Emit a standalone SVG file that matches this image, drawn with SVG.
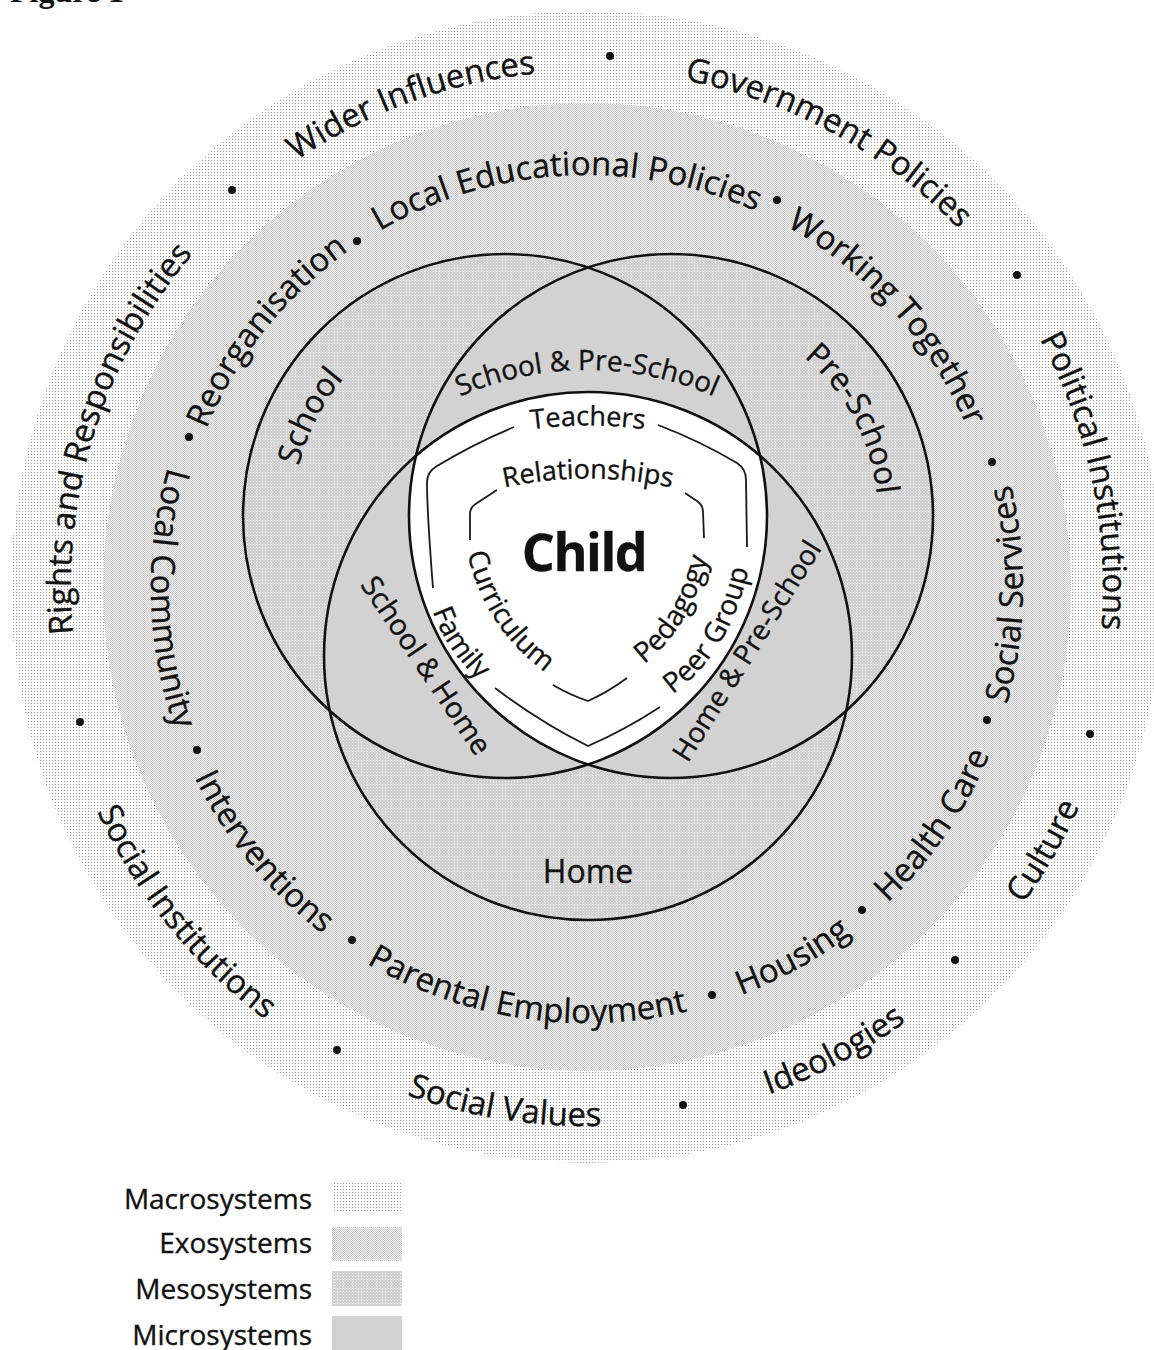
<svg xmlns="http://www.w3.org/2000/svg" width="1154" height="1350" viewBox="0 0 1154 1350">
<style>
text { font-family: "Open Sans", "Noto Sans", "Liberation Sans", sans-serif; fill: #111; stroke: #111; stroke-width: 0.35px; }
.ring { font-size: 33px; text-anchor: middle; }
.venn { font-size: 32px; text-anchor: middle; }
.pair { font-size: 28px; text-anchor: middle; }
.inner { font-size: 27px; text-anchor: middle; }
.inner2 { font-size: 28px; text-anchor: middle; }
.frame { fill: none; stroke: #1a1a1a; stroke-width: 1.8; }
.outline { fill: none; stroke: #111; stroke-width: 2.6; }
.dot { fill: #111; }
.legend { font-size: 28px; text-anchor: end; }
</style>
<defs>
  <pattern id="pMacro" width="3" height="3" patternUnits="userSpaceOnUse">
    <rect width="3" height="3" fill="#ffffff"/>
    <rect x="1" y="1" width="1" height="1" fill="#9a9a9a"/>
  </pattern>
  <pattern id="pExo" width="2" height="2" patternUnits="userSpaceOnUse">
    <rect width="2" height="2" fill="#f4f4f4"/>
    <rect width="1" height="1" fill="#c8c8c8"/>
    <rect x="1" y="1" width="1" height="1" fill="#c8c8c8"/>
  </pattern>
  <pattern id="pMeso" width="3" height="3" patternUnits="userSpaceOnUse">
    <rect width="3" height="3" fill="#d3d3d3"/>
    <rect x="1" y="1" width="1" height="1" fill="#ffffff"/>
  </pattern>
  <clipPath id="cS"><circle cx="505" cy="516" r="262"/></clipPath>
  <clipPath id="cP"><circle cx="671" cy="516" r="262"/></clipPath>
  <clipPath id="cH"><circle cx="588" cy="656" r="264"/></clipPath>
  <path id="macroCW" d="M191.7,255.3 A516,516 0 0 1 982.3,255.3"/>
  <path id="macroCCW" d="M174.1,933.5 A539,539 0 0 0 999.9,933.5"/>
  <path id="exoCW" d="M271.4,322.2 A412,412 0 0 1 902.6,322.2"/>
  <path id="exoCCW" d="M253,867.3 A436,436 0 0 0 921,867.3"/>
  <path id="schoolArc" d="M368.7,353.6 A212,212 0 0 1 641.3,353.6"/>
  <path id="preArc" d="M537.9,357.4 A207,207 0 0 1 804.1,357.4"/>
  <path id="spsArc" d="M428.5,412.5 A317,317 0 0 1 745.5,412.5"/>
  <path id="teachersP" d="M520,431 Q588,420 656,431"/>
  <path id="relP" d="M490,491 Q588,466 686,491"/>
  <path id="currP" d="M463,528 Q476,634 567,686"/>
  <path id="pedP" d="M612,683 Q700,643 714,521"/>
  <path id="peerP" d="M646,710 Q737,666 754,539"/>
  <path id="famP" d="M426,586 Q438,652 499,697"/>
</defs>

<rect width="1154" height="1350" fill="#ffffff"/>
<text x="10" y="2" style="font-family:'Liberation Serif',serif;font-weight:700;font-size:32px;stroke:none">Figure 1</text>

<g id="macrosystem">
  <circle cx="587" cy="587" r="576" fill="url(#pMacro)"/>
  <g class="ring">
    <text transform="rotate(-20 587 587)"><textPath href="#macroCW" startOffset="50%">Wider Influences</textPath></text>
    <text transform="rotate(28.5 587 587)"><textPath href="#macroCW" startOffset="50%">Government Policies</textPath></text>
    <text transform="rotate(78 587 587)"><textPath href="#macroCW" startOffset="50%">Political Institutions</textPath></text>
    <text transform="rotate(-60 587 587)"><textPath href="#macroCCW" startOffset="50%">Culture</textPath></text>
    <text transform="rotate(-28 587 587)"><textPath href="#macroCCW" startOffset="50%">Ideologies</textPath></text>
    <text transform="rotate(9 587 587)"><textPath href="#macroCCW" startOffset="50%">Social Values</textPath></text>
    <text transform="rotate(51 587 587)"><textPath href="#macroCCW" startOffset="50%">Social Institutions</textPath></text>
    <text transform="rotate(-72.5 587 587)"><textPath href="#macroCW" startOffset="50%">Rights and Responsibilities</textPath></text>
  </g>
  <g class="dot">
    <circle cx="610" cy="56" r="4"/>
    <circle cx="1017" cy="275" r="4"/>
    <circle cx="1090" cy="734" r="4"/>
    <circle cx="955" cy="960" r="4"/>
    <circle cx="683" cy="1105" r="4"/>
    <circle cx="337" cy="1050" r="4"/>
    <circle cx="80" cy="722" r="4"/>
    <circle cx="232" cy="190" r="4"/>
  </g>
</g>

<g id="exosystem">
  <circle cx="587" cy="587" r="484" fill="url(#pExo)"/>
  <g class="ring">
    <text transform="rotate(-3 587 587)"><textPath href="#exoCW" startOffset="50%">Local Educational Policies</textPath></text>
    <text transform="rotate(48 587 587)"><textPath href="#exoCW" startOffset="50%">Working Together</textPath></text>
    <text transform="rotate(-89 587 587)"><textPath href="#exoCCW" startOffset="50%">Social Services</textPath></text>
    <text transform="rotate(-55.5 587 587)"><textPath href="#exoCCW" startOffset="50%">Health Care</textPath></text>
    <text transform="rotate(-29 587 587)"><textPath href="#exoCCW" startOffset="50%">Housing</textPath></text>
    <text transform="rotate(8.5 587 587)"><textPath href="#exoCCW" startOffset="50%">Parental Employment</textPath></text>
    <text transform="rotate(50.7 587 587)"><textPath href="#exoCCW" startOffset="50%">Interventions</textPath></text>
    <text transform="rotate(88.4 587 587)"><textPath href="#exoCCW" startOffset="50%">Local Community</textPath></text>
    <text transform="rotate(-51.4 587 587)"><textPath href="#exoCW" startOffset="50%">Reorganisation</textPath></text>
  </g>
  <g class="dot">
    <circle cx="357" cy="241" r="4"/>
    <circle cx="189" cy="437" r="4"/>
    <circle cx="197" cy="750" r="4"/>
    <circle cx="352" cy="940" r="4"/>
    <circle cx="712" cy="995" r="4"/>
    <circle cx="862" cy="910" r="4"/>
    <circle cx="987" cy="720" r="4"/>
    <circle cx="992" cy="462" r="4"/>
    <circle cx="777" cy="200" r="4"/>
  </g>
</g>

<g id="venn">
  <g id="mesosystems">
    <circle cx="505" cy="516" r="262" fill="url(#pMeso)"/>
    <circle cx="671" cy="516" r="262" fill="url(#pMeso)"/>
    <circle cx="588" cy="656" r="264" fill="url(#pMeso)"/>
  </g>
  <g id="microsystems" fill="#d2d2d2">
    <circle cx="505" cy="516" r="262" clip-path="url(#cP)"/>
    <circle cx="505" cy="516" r="262" clip-path="url(#cH)"/>
    <circle cx="671" cy="516" r="262" clip-path="url(#cH)"/>
  </g>
  <g id="child-region" clip-path="url(#cS)">
    <circle cx="588" cy="656" r="264" fill="#ffffff" clip-path="url(#cP)"/>
  </g>
  <g id="outlines" class="outline">
    <circle cx="505" cy="516" r="262"/>
    <circle cx="671" cy="516" r="262"/>
    <circle cx="588" cy="656" r="264"/>
  </g>
</g>

<g id="connectors" class="frame">
  <path d="M433,588 C430,550 427,510 427,482 Q427,472 437,466 Q475,443 514,427"/>
  <path d="M658,425 Q700,441 737,463 Q746,469 746,480 L747,547"/>
  <path d="M495,688 Q540,722 588,746 Q625,730 660,707"/>
  <path d="M470,540 L470,514 Q470,507 477,503 L497,490"/>
  <path d="M685,493 L697,501 Q703,505 703,512 L704,538"/>
  <path d="M553,685 Q570,695 588,701 Q608,692 627,678"/>
</g>

<g id="node-school"><text class="venn" transform="rotate(-63 505 516)"><textPath href="#schoolArc" startOffset="50%">School</textPath></text></g>
<g id="node-preschool"><text class="venn" transform="rotate(62 671 516)"><textPath href="#preArc" startOffset="50%">Pre-School</textPath></text></g>
<g id="node-home"><text class="venn" x="588" y="883">Home</text></g>
<g id="node-school-preschool"><text class="inner" style="font-size:28px"><textPath href="#spsArc" startOffset="50%">School &amp; Pre-School</textPath></text></g>
<g id="node-school-home"><text class="pair" style="font-size:29px" transform="translate(418 671) rotate(56)">School &amp; Home</text></g>
<g id="node-home-preschool"><text class="pair" transform="translate(755 656) rotate(-58)">Home &amp; Pre-School</text></g>
<g id="node-teachers"><text class="inner"><textPath href="#teachersP" startOffset="50%">Teachers</textPath></text></g>
<g id="node-relationships"><text class="inner"><textPath href="#relP" startOffset="50%">Relationships</textPath></text></g>
<g id="node-curriculum"><text class="inner2"><textPath href="#currP" startOffset="50%">Curriculum</textPath></text></g>
<g id="node-pedagogy"><text class="inner2"><textPath href="#pedP" startOffset="50%">Pedagogy</textPath></text></g>
<g id="node-peergroup"><text class="inner2"><textPath href="#peerP" startOffset="50%">Peer Group</textPath></text></g>
<g id="node-family"><text class="inner2"><textPath href="#famP" startOffset="50%">Family</textPath></text></g>
<g id="node-child"><text x="584" y="571" style="font-size:52px;font-weight:700;letter-spacing:-1.5px;text-anchor:middle">Child</text></g>

<g id="legend">
  <rect x="332" y="1181" width="70" height="32" fill="url(#pMacro)"/>
  <rect x="332" y="1227" width="70" height="34" fill="url(#pExo)"/>
  <rect x="332" y="1271" width="70" height="35" fill="url(#pMeso)"/>
  <rect x="332" y="1316" width="70" height="34" fill="#d2d2d2"/>
  <text class="legend" x="312" y="1209">Macrosystems</text>
  <text class="legend" x="312" y="1253">Exosystems</text>
  <text class="legend" x="312" y="1299">Mesosystems</text>
  <text class="legend" x="312" y="1345">Microsystems</text>
</g>
</svg>
